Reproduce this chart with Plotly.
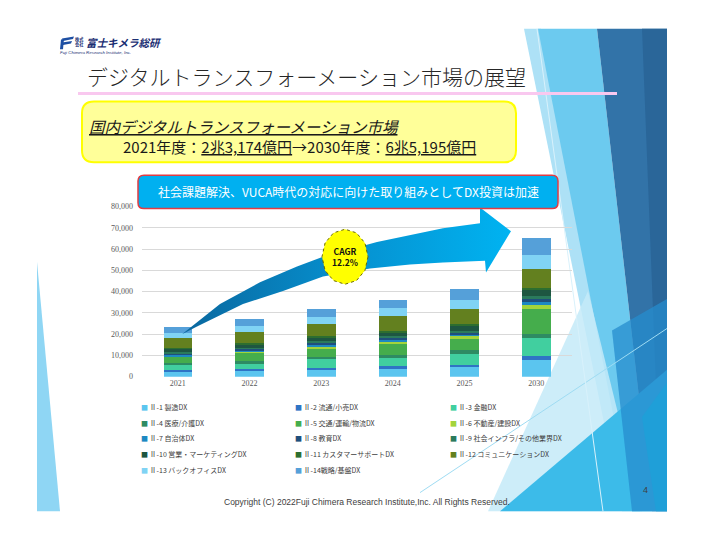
import math
import plotly.graph_objects as go

# The page shows the figure with an 8px body margin, so the figure is drawn
# at 704x524 and every reference pixel position is shifted by that margin.
OX, OY = 8, 8
W, H = 704, 524

# ---------------- data (億円) ----------------
years = ["2021", "2022", "2023", "2024", "2025", "2030"]

names = [
    "Ⅱ-1 製造DX", "Ⅱ-2 流通/小売DX", "Ⅱ-3 金融DX",
    "Ⅱ-4 医療/介護DX", "Ⅱ-5 交通/運輸/物流DX", "Ⅱ-6 不動産/建設DX",
    "Ⅱ-7 自治体DX", "Ⅱ-8 教育DX", "Ⅱ-9 社会インフラ/その他業界DX",
    "Ⅱ-10 営業・マーケティングDX", "Ⅱ-11 カスタマーサポートDX", "Ⅱ-12 コミュニケーションDX",
    "Ⅱ-13 バックオフィスDX", "Ⅱ-14戦略/基盤DX",
]

colors = [
    "#5bc5ef", "#2f74c5", "#41cf9f",
    "#2e8b63", "#45ad4c", "#a3d43b",
    "#1d89c2", "#1f4f7c", "#2b7a5c",
    "#1e5641", "#2d6e2f", "#63801f",
    "#80d3f4", "#55a0d9",
]

s01 = [2600, 2900, 3400, 4200, 4500, 7700]
s02 = [500, 600, 800, 600, 1200, 1800]
s03 = [2600, 2900, 3900, 4600, 5100, 8900]
s04 = [600, 800, 1100, 800, 1500, 1800]
s05 = [3200, 4300, 4300, 5700, 6000, 11800]
s06 = [300, 300, 600, 600, 600, 1500]
s07 = [800, 800, 1200, 1200, 1200, 1800]
s08 = [600, 700, 900, 800, 800, 1400]
s09 = [300, 400, 500, 600, 800, 1100]
s10 = [1700, 1800, 1700, 2000, 2500, 3500]
s11 = [300, 300, 500, 500, 500, 500]
s12 = [4570, 5400, 5900, 6800, 7200, 9000]
s13 = [2600, 2800, 3200, 3900, 4300, 6600]
s14 = [2500, 3300, 3700, 3900, 4900, 7800]
series = [s01, s02, s03, s04, s05, s06, s07, s08, s09, s10, s11, s12, s13, s14]

y_ticks = [0, 10000, 20000, 30000, 40000, 50000, 60000, 70000, 80000]

title_text = "デジタルトランスフォーメーション市場の展望"
box1_line1 = "国内デジタルトランスフォーメーション市場"
box1_line2 = "2021年度：<u>2兆3,174億円</u>→2030年度：<u>6兆5,195億円</u>"
box2_text = "社会課題解決、VUCA時代の対応に向けた取り組みとしてDX投資は加速"
cagr_text = "CAGR<br>12.2%"
copyright_text = "Copyright (C) 2022Fuji Chimera Research Institute,Inc. All Rights Reserved."

JP = "Noto Sans CJK JP"
SERIF = "Liberation Serif, DejaVu Serif, serif"


# ---------------- helpers (reference pixel -> paper) ----------------
def px(x):
    return (x - OX) / W


def py(y):
    return 1 - (y - OY) / H


def poly_path(points):
    return "M " + " L ".join(f"{px(x):.5f},{py(y):.5f}" for x, y in points) + " Z"


def rrect_path(x0, y0, x1, y1, r):
    def p(x, y):
        return f"{px(x):.5f},{py(y):.5f}"
    return (f"M {p(x0 + r, y0)} L {p(x1 - r, y0)} Q {p(x1, y0)} {p(x1, y0 + r)} "
            f"L {p(x1, y1 - r)} Q {p(x1, y1)} {p(x1 - r, y1)} "
            f"L {p(x0 + r, y1)} Q {p(x0, y1)} {p(x0, y1 - r)} "
            f"L {p(x0, y0 + r)} Q {p(x0, y0)} {p(x0 + r, y0)} Z")


fig = go.Figure()

# ---------------- bars ----------------
for i in range(14):
    fig.add_trace(go.Bar(
        x=years, y=series[i], name=names[i],
        marker=dict(color=colors[i], line=dict(width=0)),
        showlegend=False, xaxis="x", yaxis="y",
    ))

# ---------------- legend entries (one legend per entry, 3 columns) ----------------
col_x = [141, 295, 450]
row_y = [410, 426, 442, 458, 474]
legend_layouts = {}
for i in range(14):
    key = "legend" if i == 0 else f"legend{i + 1}"
    fig.add_trace(go.Scatter(
        x=[None], y=[None], mode="markers",
        marker=dict(size=2, color="rgba(0,0,0,0)", line=dict(width=0)),
        name=f"<span style='color:{colors[i]};font-size:7px'>■</span> {names[i]}",
        legend=key, showlegend=True, hoverinfo="skip", xaxis="x", yaxis="y",
    ))
    legend_layouts[key] = dict(
        x=px(col_x[i % 3] - 40), y=py(row_y[i // 3]), xanchor="left", yanchor="middle",
        bgcolor="rgba(0,0,0,0)", borderwidth=0, itemwidth=30,
        font=dict(family=JP, size=7, color="#404040"),
    )

# ---------------- big curved arrow (full-page pixel axes) ----------------
arrow_pts = [
    (182, 336), (220, 305), (260, 283), (297, 267), (323, 257), (377, 242),
    (443, 228), (480, 223), (480, 207), (511, 231), (486, 273), (485, 261),
    (443, 263), (410, 265), (370, 269), (323, 277), (283, 292), (243, 305),
    (197, 328), (182, 336),
]
fig.add_trace(go.Scatter(
    x=[p[0] for p in arrow_pts], y=[p[1] for p in arrow_pts],
    xaxis="x2", yaxis="y2", mode="lines", fill="toself",
    line=dict(width=0, color="#0590d0"),
    fillgradient=dict(type="horizontal",
                      colorscale=[[0, "#0a679e"], [0.5, "#0690cf"], [1, "#00b3f1"]]),
    showlegend=False, hoverinfo="skip",
))

shapes = []

# ---------------- background decorations (Facet-like) ----------------
deco = [
    ([(37, 262), (60, 516), (37, 516)], "#8fd6f4"),
    ([(524, 25), (541, 25), (640, 516), (622, 516)], "#ade1f6"),
    ([(538, 25), (597, 25), (652, 516), (632, 516)], "#6ccaef"),
    ([(597, 25), (667, 25), (667, 516), (652, 516)], "#3273a8"),
    ([(642, 25), (667, 25), (667, 390), (656, 390)], "#2a6699"),
    ([(488, 516), (588, 292), (642, 516)], "rgba(196,234,248,0.85)"),
    ([(500, 516), (667, 372), (667, 516)], "#3cbbe9"),
    ([(612, 332), (667, 300), (667, 516), (632, 516)], "rgba(38,140,205,0.75)"),
    ([(642, 420), (667, 385), (667, 516), (656, 516)], "#1f9fd8"),
]
for pts, col in deco:
    shapes.append(dict(type="path", xref="paper", yref="paper", path=poly_path(pts),
                       fillcolor=col, line=dict(width=0), layer="below"))
shapes.append(dict(type="line", xref="paper", yref="paper",
                   x0=px(420), y0=py(497), x1=px(667), y1=py(330),
                   line=dict(color="#9fdcf3", width=1), layer="below"))
shapes.append(dict(type="line", xref="paper", yref="paper",
                   x0=px(537), y0=py(25), x1=px(603), y1=py(516),
                   line=dict(color="#d8f1fb", width=1), layer="below"))

# title underline
shapes.append(dict(type="line", xref="paper", yref="paper",
                   x0=px(78), y0=py(91), x1=px(617), y1=py(91),
                   line=dict(color="#f9c8ef", width=3), layer="below"))
# yellow box
shapes.append(dict(type="path", xref="paper", yref="paper",
                   path=rrect_path(82, 99, 516, 161, 12),
                   fillcolor="#ffff99", line=dict(color="#ffff00", width=2), layer="below"))
# blue box
shapes.append(dict(type="path", xref="paper", yref="paper",
                   path=rrect_path(138, 174, 558, 208, 6),
                   fillcolor="#00b0f0", line=dict(color="#e03c44", width=1.5), layer="above"))

# CAGR octagon (above arrow)
cx, cy, rx, ry = 345, 257, 23, 28
oct_pts = [(cx + rx * math.cos(math.radians(a)), cy + ry * math.sin(math.radians(a)))
           for a in range(0, 360, 30)]
shapes.append(dict(type="path", xref="paper", yref="paper", path=poly_path(oct_pts),
                   fillcolor="#ffff00", line=dict(color="#6b6b00", width=1, dash="dot"),
                   layer="above"))

# logo icon (stylised F)
logo_col = "#1d4fa3"
shapes.append(dict(type="path", xref="paper", yref="paper",
                   path=poly_path([(62, 35), (74, 33), (73, 35.5), (63, 37.5)]),
                   fillcolor=logo_col, line=dict(width=0)))
shapes.append(dict(type="path", xref="paper", yref="paper",
                   path=poly_path([(62, 39), (72, 37.5), (71, 40), (63, 41.5)]),
                   fillcolor=logo_col, line=dict(width=0)))
shapes.append(dict(type="path", xref="paper", yref="paper",
                   path=poly_path([(61, 36), (64, 35.5), (63, 46), (60, 46)]),
                   fillcolor=logo_col, line=dict(width=0)))

# ---------------- annotations ----------------
ann = []


def text(x, y, t, size, color="#222222", family=JP, xanchor="left", yanchor="middle",
         weight="normal", align="left"):
    ann.append(dict(xref="paper", yref="paper", x=px(x), y=py(y), text=t, showarrow=False,
                    xanchor=xanchor, yanchor=yanchor, align=align, borderpad=0,
                    font=dict(family=family, size=size, color=color, weight=weight)))


text(86, 73, title_text, 21, color="#262626", weight=300)
text(88, 124, f"<i><u>{box1_line1}</u></i>", 15.5, color="#1a1a1a")
text(299, 145, box1_line2, 15, color="#1a1a1a", xanchor="center")
text(348, 191, box2_text, 12, color="#ffffff", xanchor="center")
text(345, 257, f"<b>{cagr_text}</b>", 8.5, color="#111111", xanchor="center", align="center")
text(367, 507, copyright_text, 8.5, color="#404040",
     family="Liberation Sans Narrow, Liberation Sans, sans-serif", xanchor="center")
text(645, 494, "4", 9, color="#404040", family="Liberation Sans, sans-serif", xanchor="center")
# logo texts
text(74, 38.5, "株式<br>会社", 4.2, color="#1b2f73", weight="bold")
text(85, 39, "<i>富士キメラ総研</i>", 10.5, color="#1b2f73", weight="bold")
text(59, 49.5, "<i>Fuji Chimera Research Institute, Inc.</i>", 4.4, color="#1b2f73",
     family="Liberation Sans, sans-serif")

# ---------------- layout ----------------
fig.update_layout(
    width=W, height=H, autosize=False,
    margin=dict(l=0, r=0, t=0, b=0),
    paper_bgcolor="white", plot_bgcolor="rgba(0,0,0,0)",
    barmode="stack", bargap=0.6,
    showlegend=True,
    xaxis=dict(domain=[px(142), px(572)], type="category", showgrid=False, zeroline=False,
               showline=False, ticks="", fixedrange=True,
               tickfont=dict(family=SERIF, size=8, color="#595959")),
    yaxis=dict(domain=[py(379), py(206)], range=[0, 80000], tickvals=y_ticks,
               tickformat=",", gridcolor="#d9d9d9", gridwidth=0.75, zeroline=False,
               showline=False, ticks="", ticklabelstandoff=8, fixedrange=True,
               tickfont=dict(family=SERIF, size=8, color="#595959")),
    xaxis2=dict(domain=[0, 1], range=[OX, OX + W], visible=False, anchor="y2", fixedrange=True),
    yaxis2=dict(domain=[0, 1], range=[OY + H, OY], visible=False, anchor="x2", fixedrange=True),
    shapes=shapes,
    annotations=ann,
    **legend_layouts,
)

fig.write_html("out.html")
